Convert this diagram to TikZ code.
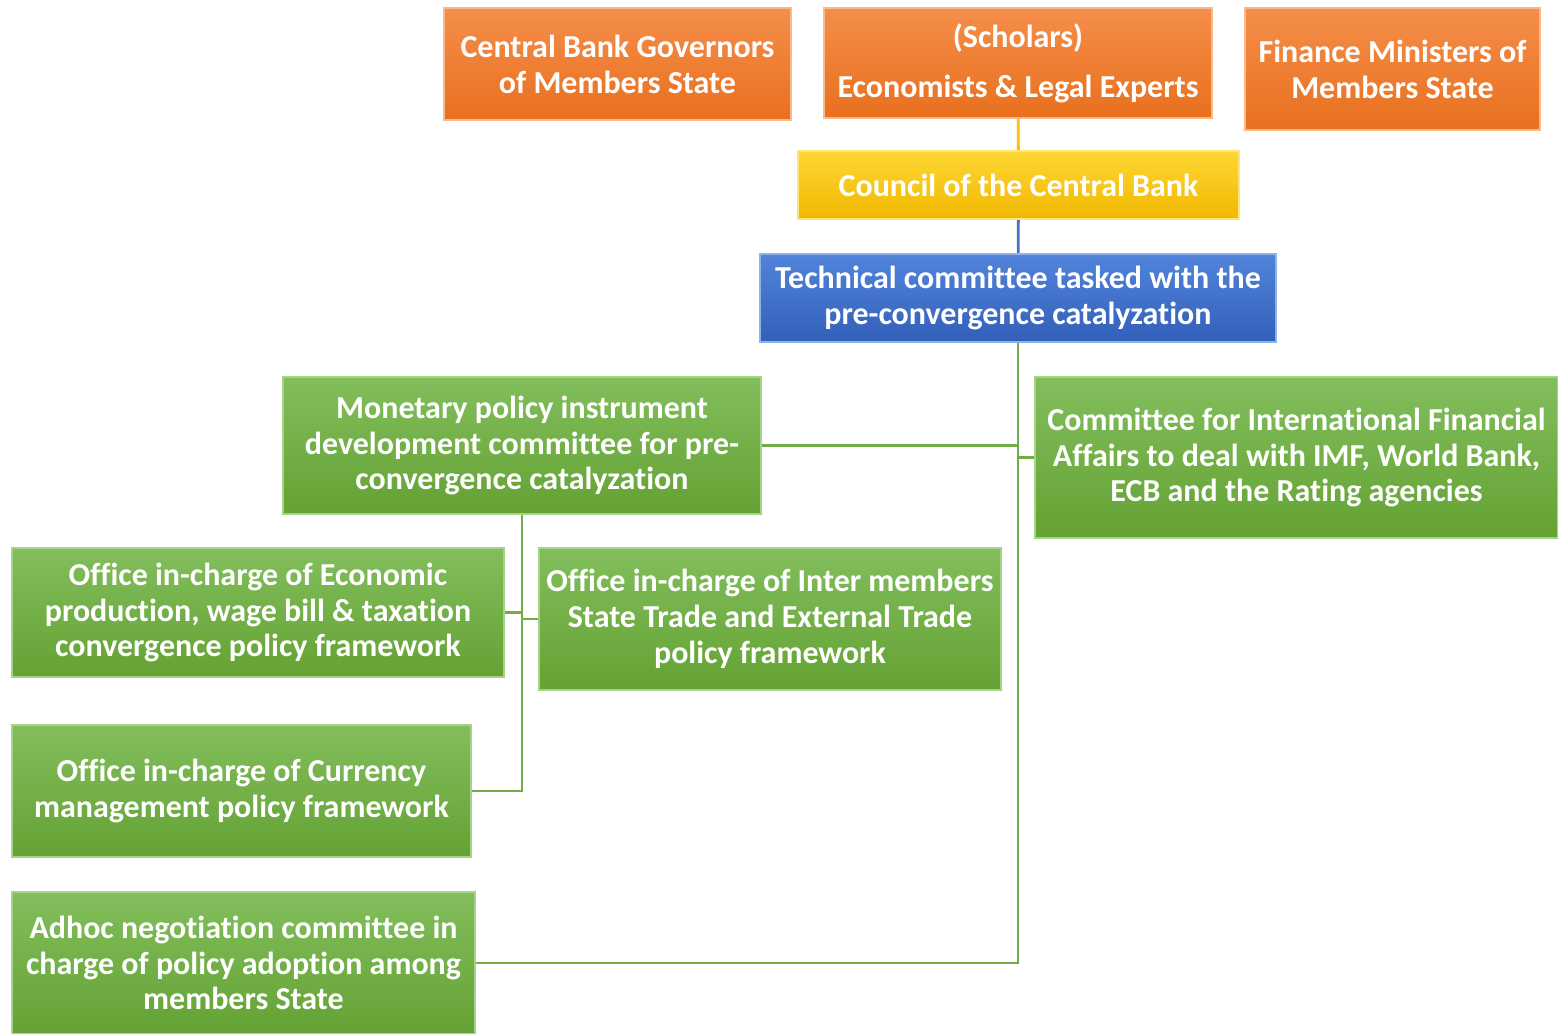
\documentclass[tikz,border=0pt]{standalone}
\usepackage{fontspec}
\setmainfont{Carlito}[Ligatures=NoCommon]
\usetikzlibrary{positioning}

\definecolor{orangetop}{RGB}{245,142,74}
\definecolor{orangebot}{RGB}{232,112,30}
\definecolor{orangeedge}{RGB}{248,185,140}
\definecolor{yellowtop}{RGB}{255,214,52}
\definecolor{yellowbot}{RGB}{240,184,0}
\definecolor{yellowedge}{RGB}{255,228,120}
\definecolor{bluetop}{RGB}{82,132,220}
\definecolor{bluebot}{RGB}{50,95,185}
\definecolor{blueedge}{RGB}{140,178,232}
\definecolor{greentop}{RGB}{130,190,92}
\definecolor{greenbot}{RGB}{100,162,52}
\definecolor{greenedge}{RGB}{168,210,135}
\definecolor{greenline}{RGB}{112,173,71}
\definecolor{blueline}{RGB}{68,114,196}
\definecolor{yellowline}{RGB}{255,192,0}

\tikzset{
  orgbox/.style={rectangle, draw, line width=0.7pt, text=white, align=center,
    inner sep=2pt, font=\bfseries\fontsize{9.1}{10.2}\selectfont},
  orangebox/.style={orgbox, top color=orangetop, bottom color=orangebot, draw=orangeedge},
  yellowbox/.style={orgbox, top color=yellowtop, bottom color=yellowbot, draw=yellowedge},
  bluebox/.style={orgbox, top color=bluetop, bottom color=bluebot, draw=blueedge},
  greenbox/.style={orgbox, top color=greentop, bottom color=greenbot, draw=greenedge},
  link/.style={line width=0.8pt, draw=greenline}
}

\begin{document}
\begin{tikzpicture}
    \useasboundingbox (0,0) rectangle (15.58,-10.34);

    % Top row: the members
    \node[orangebox, minimum width=3.47cm, minimum height=1.12cm] (gov) at (6.175,-0.64)
        {Central Bank Governors\\of Members State};
    \node[orangebox, minimum width=3.88cm, minimum height=1.10cm] (sch) at (10.18,-0.63)
        {(Scholars)\\[4pt]Economists \& Legal Experts};
    \node[orangebox, minimum width=2.95cm, minimum height=1.22cm] (fin) at (13.925,-0.69)
        {Finance Ministers of\\Members State};

    % Council and technical committee
    \node[yellowbox, minimum width=4.41cm, minimum height=0.68cm] (council) at (10.185,-1.85)
        {Council of the Central Bank};
    \node[bluebox, minimum width=5.16cm, minimum height=0.88cm] (tech) at (10.18,-2.98)
        {Technical committee tasked with the\\pre-convergence catalyzation};

    % Committees
    \node[greenbox, minimum width=4.78cm, minimum height=1.37cm] (mon) at (5.22,-4.455)
        {Monetary policy instrument\\development committee for pre-\\convergence catalyzation};
    \node[greenbox, minimum width=5.23cm, minimum height=1.61cm] (intl) at (12.965,-4.575)
        {Committee for International Financial\\Affairs to deal with IMF, World Bank,\\ECB and the Rating agencies};

    % Offices
    \node[greenbox, minimum width=4.92cm, minimum height=1.29cm] (econ) at (2.58,-6.125)
        {Office in-charge of Economic\\production, wage bill \& taxation\\convergence policy framework};
    \node[greenbox, minimum width=4.62cm, minimum height=1.42cm] (trade) at (7.70,-6.19)
        {Office in-charge of Inter members\\State Trade and External Trade\\policy framework};
    \node[greenbox, minimum width=4.59cm, minimum height=1.32cm] (curr) at (2.415,-7.91)
        {Office in-charge of Currency\\management policy framework};
    \node[greenbox, minimum width=4.63cm, minimum height=1.42cm] (adhoc) at (2.435,-9.63)
        {Adhoc negotiation committee in\\charge of policy adoption among\\members State};

    % Connectors
    \draw[link, draw=yellowline] (sch) -- (council);
    \draw[link, draw=blueline] (council) -- (tech);
    \draw[link] (tech.south) |- (adhoc.east);
    \draw[link] (mon.east) -- (mon.east -| tech.south);
    \draw[link] (intl.west) -- (intl.west -| tech.south);
    \draw[link] (mon.south) |- (curr.east);
    \draw[link] (econ.east) -- (econ.east -| mon.south);
    \draw[link] (trade.west) -- (trade.west -| mon.south);
\end{tikzpicture}
\end{document}
